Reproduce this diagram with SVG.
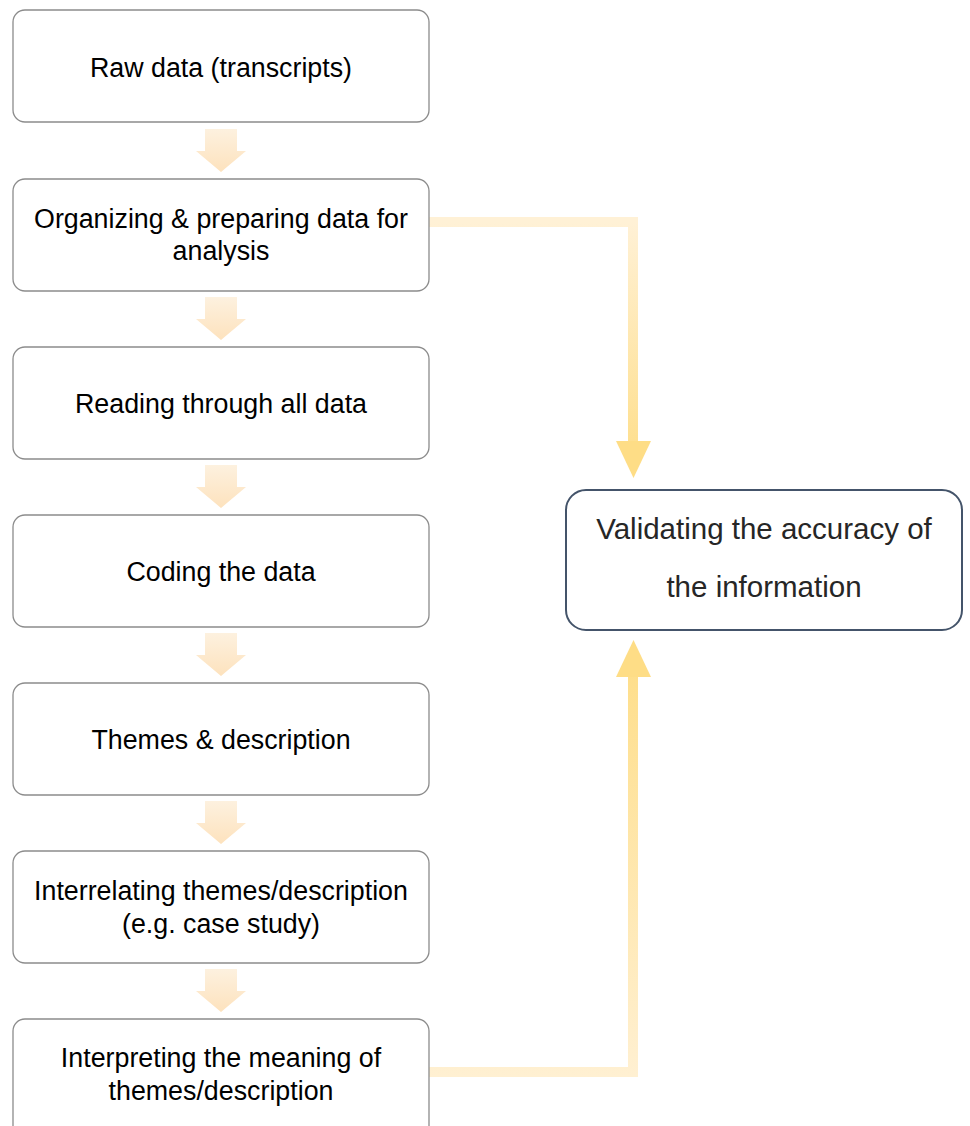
<svg xmlns="http://www.w3.org/2000/svg" width="970" height="1126" viewBox="0 0 970 1126">
  <style>
    .step { fill: #ffffff; stroke: #8c8c8c; stroke-width: 1.3; }
    .goal { fill: #ffffff; stroke: #44546a; stroke-width: 2; }
    .lbl { font-family: "Liberation Sans", Arial, sans-serif; font-size: 26.8px; fill: #000000; text-anchor: middle; }
    .big { font-family: "Liberation Sans", Arial, sans-serif; font-size: 29.5px; fill: #262626; text-anchor: middle; }
    .down { fill: url(#peach); }
  </style>
  <defs>
    <linearGradient id="peach" x1="0" y1="0" x2="0" y2="1">
      <stop offset="0" stop-color="#fdf1df"/>
      <stop offset="1" stop-color="#fde2bd"/>
    </linearGradient>
    <linearGradient id="fallGrad" gradientUnits="userSpaceOnUse" x1="0" y1="222" x2="0" y2="478">
      <stop offset="0" stop-color="#fff1d6"/>
      <stop offset="1" stop-color="#fedd86"/>
    </linearGradient>
    <linearGradient id="riseGrad" gradientUnits="userSpaceOnUse" x1="0" y1="1077" x2="0" y2="640">
      <stop offset="0" stop-color="#fff0d2"/>
      <stop offset="1" stop-color="#fedd86"/>
    </linearGradient>
    <path id="step-arrow" d="M -16 0 H 16 V 22 H 25 L 0 43 L -25 22 H -16 Z"/>
  </defs>

  <!-- small arrows between steps -->
  <g id="step-arrows" class="down">
    <use href="#step-arrow" x="221" y="129"/>
    <use href="#step-arrow" x="221" y="297"/>
    <use href="#step-arrow" x="221" y="465"/>
    <use href="#step-arrow" x="221" y="633"/>
    <use href="#step-arrow" x="221" y="801"/>
    <use href="#step-arrow" x="221" y="969"/>
  </g>

  <!-- connectors to validation -->
  <g id="connectors">
    <path d="M 429 222 H 633 V 442" fill="none" stroke="url(#fallGrad)" stroke-width="10"/>
    <polygon points="616,441 651,441 633.5,478" fill="#fedd86"/>
    <path d="M 429 1072 H 633 V 676" fill="none" stroke="url(#riseGrad)" stroke-width="10"/>
    <polygon points="616,677 651,677 633.5,640" fill="#fedd86"/>
  </g>

  <g id="raw-data">
    <rect class="step" x="13" y="10" width="416" height="112" rx="12"/>
    <text class="lbl" x="221" y="77">Raw data (transcripts)</text>
  </g>
  <g id="organizing">
    <rect class="step" x="13" y="179" width="416" height="112" rx="12"/>
    <text class="lbl" x="221" y="228">Organizing &amp; preparing data for</text>
    <text class="lbl" x="221" y="260">analysis</text>
  </g>
  <g id="reading">
    <rect class="step" x="13" y="347" width="416" height="112" rx="12"/>
    <text class="lbl" x="221" y="413">Reading through all data</text>
  </g>
  <g id="coding">
    <rect class="step" x="13" y="515" width="416" height="112" rx="12"/>
    <text class="lbl" x="221" y="581">Coding the data</text>
  </g>
  <g id="themes">
    <rect class="step" x="13" y="683" width="416" height="112" rx="12"/>
    <text class="lbl" x="221" y="749">Themes &amp; description</text>
  </g>
  <g id="interrelating">
    <rect class="step" x="13" y="851" width="416" height="112" rx="12"/>
    <text class="lbl" x="221" y="900">Interrelating themes/description</text>
    <text class="lbl" x="221" y="933">(e.g. case study)</text>
  </g>
  <g id="interpreting">
    <rect class="step" x="13" y="1019" width="416" height="120" rx="12"/>
    <text class="lbl" x="221" y="1067">Interpreting the meaning of</text>
    <text class="lbl" x="221" y="1100">themes/description</text>
  </g>
  <g id="validating">
    <rect class="goal" x="566" y="490" width="396" height="140" rx="20"/>
    <text class="big" x="764" y="539">Validating the accuracy of</text>
    <text class="big" x="764" y="597">the information</text>
  </g>
</svg>
